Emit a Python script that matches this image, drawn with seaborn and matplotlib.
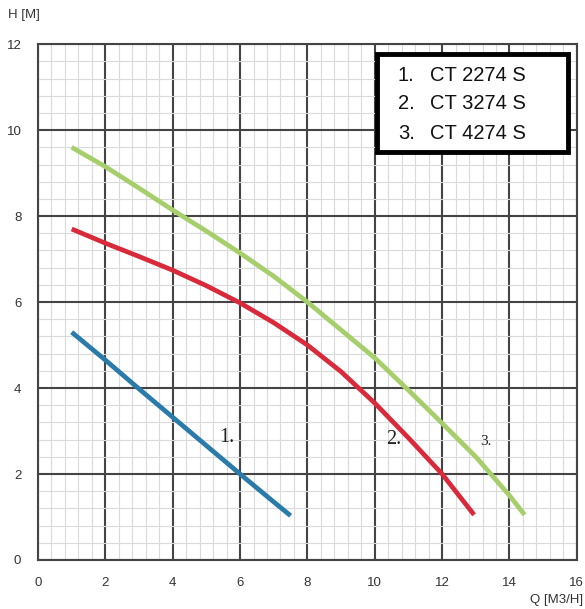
import matplotlib
matplotlib.use('Agg')
import matplotlib.pyplot as plt
import seaborn as sns
import pandas as pd
import numpy as np
from matplotlib.patches import Rectangle
from matplotlib.ticker import MultipleLocator

# 数据：三条泵性能曲线 Q-H
q1 = [1, 2, 3, 4, 5, 6, 7, 7.5]
h1 = [5.3, 4.65, 3.98, 3.32, 2.66, 2.0, 1.35, 1.03]

q2 = [1, 2, 3, 4, 5, 6, 7, 8, 9, 10, 11, 12, 12.95]
h2 = [7.7, 7.37, 7.06, 6.74, 6.38, 5.98, 5.52, 5.0, 4.38, 3.65, 2.84, 2.0, 1.05]

q3 = [1, 2, 3, 4, 5, 6, 7, 8, 9, 10, 11, 12, 13, 14, 14.45]
h3 = [9.6, 9.15, 8.65, 8.14, 7.65, 7.14, 6.6, 6.0, 5.35, 4.7, 3.95, 3.18, 2.4, 1.5, 1.05]

models = ['CT 2274 S', 'CT 3274 S', 'CT 4274 S']
curve_labels = ['1.', '2.', '3.']
label_pos = [(5.6, 2.85), (10.55, 2.8), (13.3, 2.75)]

sns.set_style('white')
plt.rcParams['font.family'] = ['Liberation Sans', 'DejaVu Sans']

fig = plt.figure(figsize=(5.85, 6.09), dpi=100)
ax = fig.add_axes([0.065, 0.0805, 0.921, 0.847])

# 曲线
colors = ['#2a7aaa', '#d92a3c', '#a6cf6c']
for q, h, c in zip([q1, q2, q3], [h1, h2, h3], colors):
    sns.lineplot(x=q, y=h, ax=ax, color=c, lw=3.4, sort=False, legend=False,
                 solid_joinstyle='round', solid_capstyle='butt')

ax.set_xlim(0, 16)
ax.set_ylim(0, 12)
ax.xaxis.set_major_locator(MultipleLocator(2))
ax.yaxis.set_major_locator(MultipleLocator(2))
ax.xaxis.set_minor_locator(MultipleLocator(0.4))
ax.yaxis.set_minor_locator(MultipleLocator(0.4))
ax.grid(which='minor', color='#dadada', lw=0.8)
ax.grid(which='major', color='#444444', lw=1.5)
ax.set_axisbelow(True)
ax.tick_params(which='both', length=0)
ax.tick_params(axis='x', pad=12, labelsize=9.5, colors='#333333')
ax.tick_params(axis='y', pad=12, labelsize=9.5, colors='#333333')
for s in ax.spines.values():
    s.set_color('#444444')
    s.set_linewidth(1.5)

# 坐标轴标题
fig.text(8 / 585, 1 - 15 / 609, 'H [M]', fontsize=9.5, color='#333333', va='center', ha='left')
fig.text(583 / 585, 1 - 600 / 609, 'Q [M3/H]', fontsize=9.5, color='#333333', va='center', ha='right')

# 曲线编号
for (x, y), lab, fs in zip(label_pos, curve_labels, [14.5, 14.5, 11]):
    ax.text(x, y, lab, fontsize=fs, family='Liberation Serif', color='#222222', ha='center', va='center')

# 图例框
ax.add_patch(Rectangle((0.629, 0.791), 0.354, 0.19, transform=ax.transAxes,
                       facecolor='white', edgecolor='black', lw=3.5, zorder=5))
for i, m in enumerate(models):
    yy = [0.940, 0.884, 0.826][i]
    ax.text(0.668, yy, f'{i + 1}.', transform=ax.transAxes, fontsize=14.5, va='center', ha='left', zorder=6, color='#111111')
    ax.text(0.727, yy, m, transform=ax.transAxes, fontsize=14.5, va='center', ha='left', zorder=6, color='#111111')

fig.savefig('out.png', dpi=100)
